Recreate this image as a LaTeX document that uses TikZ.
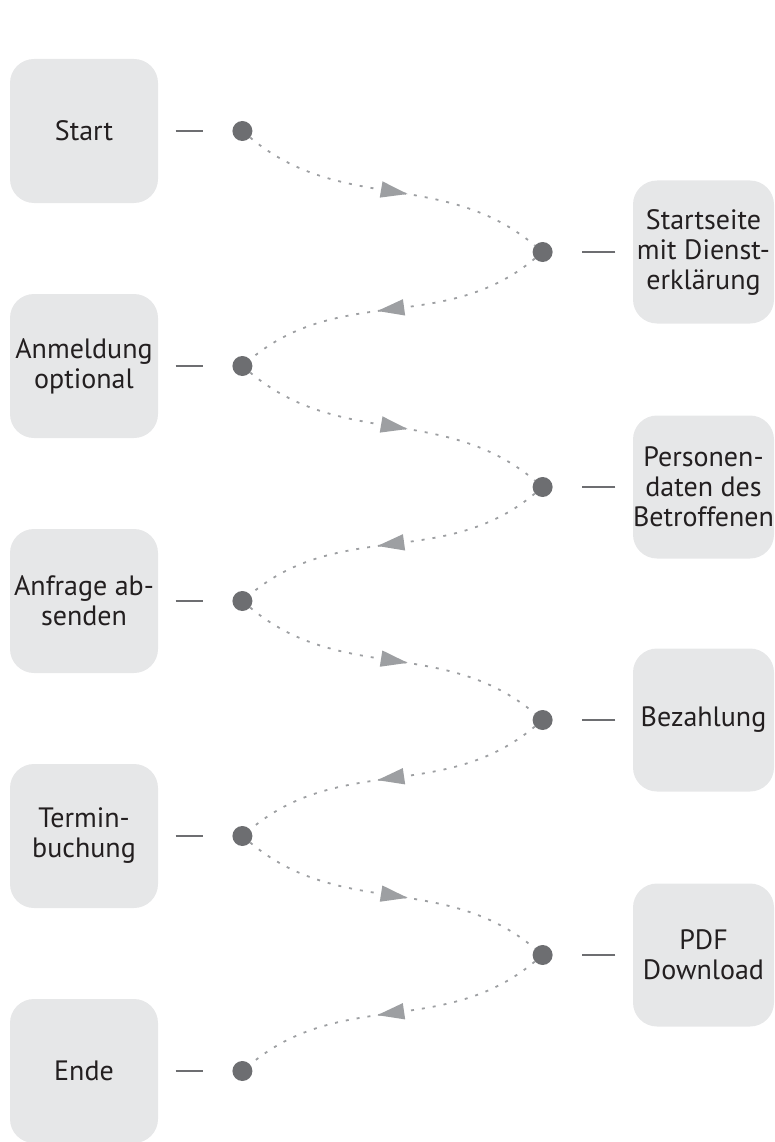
\documentclass[tikz,border=0pt]{standalone}
\usepackage{fontspec}
\setmainfont{PT Sans}
\usetikzlibrary{positioning,arrows.meta,decorations.markings}
\definecolor{boxgray}{HTML}{E6E7E8}
\definecolor{dotgray}{HTML}{6D6E71}
\definecolor{pathgray}{HTML}{9D9FA2}
\definecolor{textgray}{HTML}{231F20}

\begin{document}
\begin{tikzpicture}[x=1pt,y=1pt,
   station/.style={fill=boxgray,rounded corners=24pt,minimum width=148pt,minimum height=144pt,
      align=center,text=textgray,font=\fontsize{28}{30}\selectfont,inner sep=0pt},
   page/.style={station,minimum width=141pt,minimum height=143pt},
   stop dot/.style={circle,fill=dotgray,inner sep=0pt,minimum size=20pt},
   tick/.style={dotgray,line width=2.4pt,shorten <=17.5pt,shorten >=29pt},
   flow/.style={pathgray,line width=1.8pt,dash pattern=on 3pt off 8pt,
      postaction={decorate},
      decoration={markings,mark=at position 0.55 with {\arrow[pathgray]{Triangle[length=27pt,width=16pt]}}}}]
\useasboundingbox (0,0) rectangle (775,-1142);

\node[station] (start) at (84,-131) {Start};
\node[station] (anmeldung) at (84,-366) {Anmeldung\\optional};
\node[station] (anfrage) at (84,-601) {Anfrage ab-\\senden};
\node[station] (termin) at (84,-836) {Termin-\\buchung};
\node[station] (ende) at (84,-1071) {Ende};

\node[page] (startseite) at (703.5,-252) {Startseite\\mit Dienst-\\erklärung};
\node[page] (personen) at (703.5,-487) {Personen-\\daten des\\Betroffenen};
\node[page] (bezahlung) at (703.5,-720) {Bezahlung};
\node[page] (pdf) at (703.5,-955) {PDF\\Download};

\node[stop dot,right=74pt of start] (d1) {};
\node[stop dot,right=74pt of anmeldung] (d3) {};
\node[stop dot,right=74pt of anfrage] (d5) {};
\node[stop dot,right=74pt of termin] (d7) {};
\node[stop dot,right=74pt of ende] (d9) {};
\node[stop dot,left=80pt of startseite] (d2) {};
\node[stop dot,left=80pt of personen] (d4) {};
\node[stop dot,left=80pt of bezahlung] (d6) {};
\node[stop dot,left=80pt of pdf] (d8) {};

\draw[tick] (start) -- (d1);
\draw[tick] (anmeldung) -- (d3);
\draw[tick] (anfrage) -- (d5);
\draw[tick] (termin) -- (d7);
\draw[tick] (ende) -- (d9);
\draw[tick] (startseite) -- (d2);
\draw[tick] (personen) -- (d4);
\draw[tick] (bezahlung) -- (d6);
\draw[tick] (pdf) -- (d8);

\draw[flow] (d1) to[out=-40,in=140] (d2);
\draw[flow] (d2) to[out=-140,in=40] (d3);
\draw[flow] (d3) to[out=-40,in=140] (d4);
\draw[flow] (d4) to[out=-140,in=40] (d5);
\draw[flow] (d5) to[out=-40,in=140] (d6);
\draw[flow] (d6) to[out=-140,in=40] (d7);
\draw[flow] (d7) to[out=-40,in=140] (d8);
\draw[flow] (d8) to[out=-140,in=40] (d9);
\end{tikzpicture}
\end{document}
